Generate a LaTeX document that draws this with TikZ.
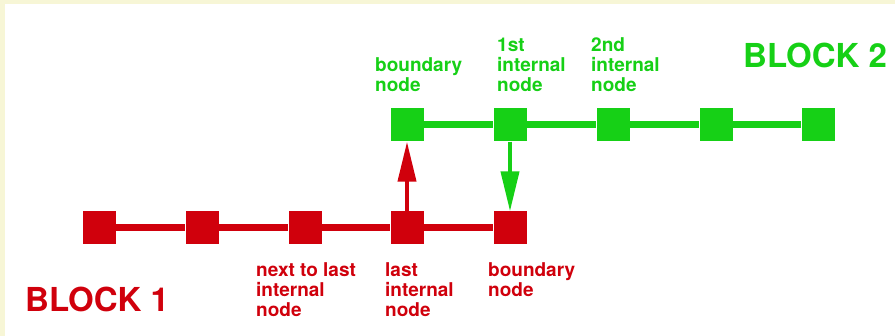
\documentclass[tikz,border=0pt]{standalone}
\usepackage{fontspec}
\setmainfont{TeX Gyre Heros}
\usepackage{tikz}
\usetikzlibrary{arrows.meta}
\definecolor{blockred}{RGB}{208,0,12}
\definecolor{blockgreen}{RGB}{22,208,22}
\definecolor{cream}{RGB}{247,246,214}
\tikzset{lbl/.style={inner sep=0pt, align=left, font=\fontsize{19}{20}\selectfont\bfseries},
  blocklbl/.style={inner sep=0pt, anchor=base west, font=\fontsize{33}{36}\selectfont\bfseries}}

\begin{document}
\begin{tikzpicture}[x=1pt,y=-1pt]
\useasboundingbox (0,0) rectangle (895,336);
\fill[cream] (0,0) rectangle (895,336);
\fill[white] (5,4) rectangle (895,336);
 % block 1
 \begin{scope}[every node/.style={rectangle,fill=blockred,minimum size=33pt,inner sep=0pt}]
    \node (r1) at (99,228) {};
    \node (r2) at (202,228) {};
    \node (r3) at (305,228) {};
    \node (r4) at (407,228) {};
    \node (r5) at (510,228) {};
 \end{scope}
 % block 2
 \begin{scope}[every node/.style={rectangle,fill=blockgreen,minimum size=33pt,inner sep=0pt}]
    \node (g1) at (407,125) {};
    \node (g2) at (510,125) {};
    \node (g3) at (613,125) {};
    \node (g4) at (716,125) {};
    \node (g5) at (818,125) {};
 \end{scope}
 \begin{scope}[every edge/.style={draw=blockred, line width=7pt}]
   \draw (r1) edge (r2);
   \draw (r2) edge (r3);
   \draw (r3) edge (r4);
   \draw (r4) edge (r5);
 \end{scope}
 \begin{scope}[every edge/.style={draw=blockgreen, line width=7pt}]
   \draw (g1) edge (g2);
   \draw (g2) edge (g3);
   \draw (g3) edge (g4);
   \draw (g4) edge (g5);
 \end{scope}
 % exchange
 \draw[blockred, line width=4pt, -{Triangle[length=40pt,width=18pt]}] (r4) -- (g1);
 \draw[blockgreen, line width=4pt, -{Triangle[length=40pt,width=18pt]}] (g2) -- (r5);
 % labels
 \node[lbl, text=blockgreen, anchor=south west] (gl1) at (375,92) {boundary\\node};
 \node[lbl, text=blockgreen, anchor=south west] (gl2) at (497,92) {1st\\internal\\node};
 \node[lbl, text=blockgreen, anchor=south west] (gl3) at (591,92) {2nd\\internal\\node};
 \node[lbl, text=blockred, anchor=north west] (rl3) at (256,262) {next to last\\internal\\node};
 \node[lbl, text=blockred, anchor=north west] (rl4) at (385,262) {last\\internal\\node};
 \node[lbl, text=blockred, anchor=north west] (rl5) at (488,262) {boundary\\node};
 \node[blocklbl, text=blockgreen] (b2) at (743,68) {BLOCK 2};
 \node[blocklbl, text=blockred] (b1) at (25,312) {BLOCK 1};
\end{tikzpicture}
\end{document}
